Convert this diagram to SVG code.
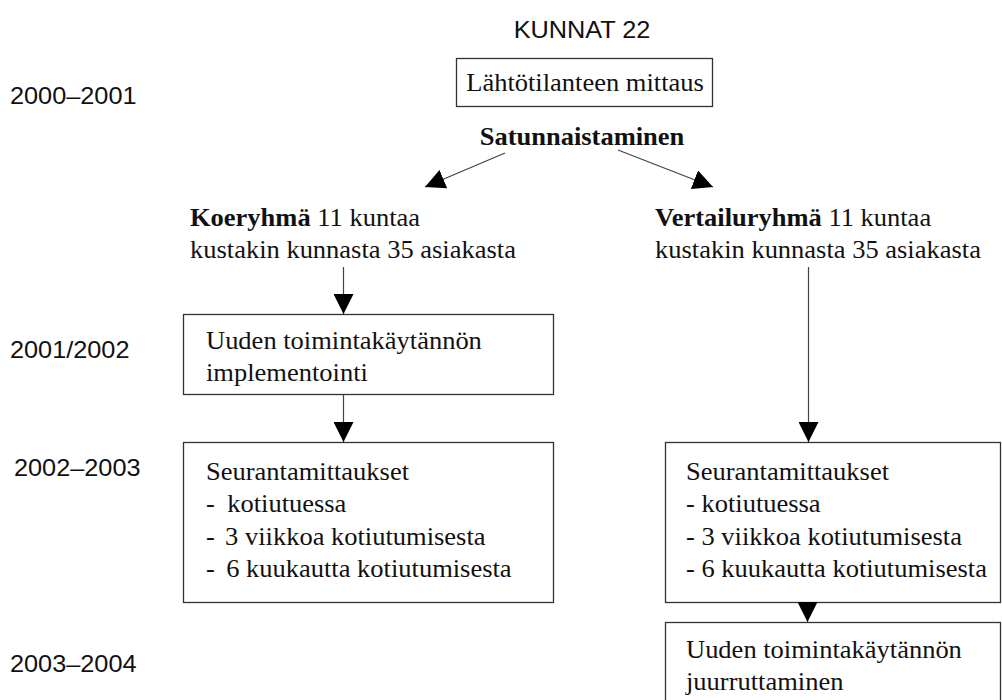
<svg xmlns="http://www.w3.org/2000/svg" width="1002" height="700" viewBox="0 0 1002 700">
<style>
.t{font-family:"Liberation Serif","Times New Roman",serif;font-size:25px;fill:#111}
.a{font-family:"Liberation Sans",Arial,sans-serif;font-size:23px;fill:#111}
.b{font-weight:bold}
.m{text-anchor:middle}
.box{fill:#fff;stroke:#333;stroke-width:1.3}
.ln{stroke:#444;stroke-width:1.2;fill:none;marker-end:url(#ah)}
</style>
<defs>
<marker id="ah" markerUnits="userSpaceOnUse" markerWidth="20" markerHeight="20" viewBox="0 0 20 20" refX="20" refY="10" orient="auto">
<path d="M0,0 L20,10 L0,20 z" fill="#000"/>
</marker>
</defs>
<rect width="1002" height="700" fill="#fff"/>

<g id="years">
<text class="a" transform="matrix(1.1 0 0 1 10 104)">2000–2001</text>
<text class="a" transform="matrix(1.1 0 0 1 10 358)">2001/2002</text>
<text class="a" transform="matrix(1.1 0 0 1 14 476)">2002–2003</text>
<text class="a" transform="matrix(1.1 0 0 1 10 672)">2003–2004</text>
</g>

<g id="title">
<text class="a m" transform="matrix(1.1 0 0 1 582 38)">KUNNAT 22</text>
</g>

<g id="baseline-measure">
<rect class="box" x="456.5" y="58.5" width="256" height="48"/>
<text class="t m" transform="matrix(1.06 0 0 1 585 91)">Lähtötilanteen mittaus</text>
</g>

<g id="randomisation">
<text class="t b m" transform="matrix(1.06 0 0 1 582 145)">Satunnaistaminen</text>
</g>

<g id="koeryhma">
<text class="t" transform="matrix(1.06 0 0 1 190 226)"><tspan class="b">Koeryhmä</tspan> 11 kuntaa</text>
<text class="t" transform="matrix(1.06 0 0 1 190 258)">kustakin kunnasta 35 asiakasta</text>
</g>

<g id="vertailuryhma">
<text class="t" transform="matrix(1.06 0 0 1 655 226)"><tspan class="b">Vertailuryhmä</tspan> 11 kuntaa</text>
<text class="t" transform="matrix(1.06 0 0 1 655 258)">kustakin kunnasta 35 asiakasta</text>
</g>

<g id="implementointi">
<rect class="box" x="183.5" y="314.5" width="370" height="80"/>
<text class="t" transform="matrix(1.06 0 0 1 206 349)">Uuden toimintakäytännön</text>
<text class="t" transform="matrix(1.06 0 0 1 206 381)">implementointi</text>
</g>

<g id="seuranta-koe">
<rect class="box" x="183.5" y="442.5" width="370" height="160"/>
<text class="t" transform="matrix(1.06 0 0 1 206 480)">Seurantamittaukset</text>
<text class="t" transform="matrix(1.06 0 0 1 206 512)"><tspan x="0">-</tspan><tspan x="20">kotiutuessa</tspan></text>
<text class="t" transform="matrix(1.06 0 0 1 206 545)"><tspan x="0">-</tspan><tspan x="18">3 viikkoa kotiutumisesta</tspan></text>
<text class="t" transform="matrix(1.06 0 0 1 206 577)"><tspan x="0">-</tspan><tspan x="19">6 kuukautta kotiutumisesta</tspan></text>
</g>

<g id="seuranta-vertailu">
<rect class="box" x="665.5" y="442.5" width="335" height="160"/>
<text class="t" transform="matrix(1.06 0 0 1 686 480)">Seurantamittaukset</text>
<text class="t" transform="matrix(1.06 0 0 1 686 512)">- kotiutuessa</text>
<text class="t" transform="matrix(1.06 0 0 1 686 545)">- 3 viikkoa kotiutumisesta</text>
<text class="t" transform="matrix(1.06 0 0 1 686 577)">- 6 kuukautta kotiutumisesta</text>
</g>

<g id="juurruttaminen">
<rect class="box" x="665.5" y="622.5" width="335" height="90"/>
<text class="t" transform="matrix(1.06 0 0 1 686 658)">Uuden toimintakäytännön</text>
<text class="t" transform="matrix(1.06 0 0 1 686 690)">juurruttaminen</text>
</g>

<g id="connectors">
<line class="ln" x1="505" y1="153" x2="425" y2="187"/>
<line class="ln" x1="618" y1="150" x2="713" y2="187"/>
<line class="ln" x1="343.5" y1="267" x2="343.5" y2="314"/>
<line class="ln" x1="343.5" y1="395" x2="343.5" y2="442"/>
<line class="ln" x1="808.5" y1="267" x2="808.5" y2="442"/>
<line class="ln" x1="807.5" y1="603" x2="807.5" y2="622"/>
</g>
</svg>
